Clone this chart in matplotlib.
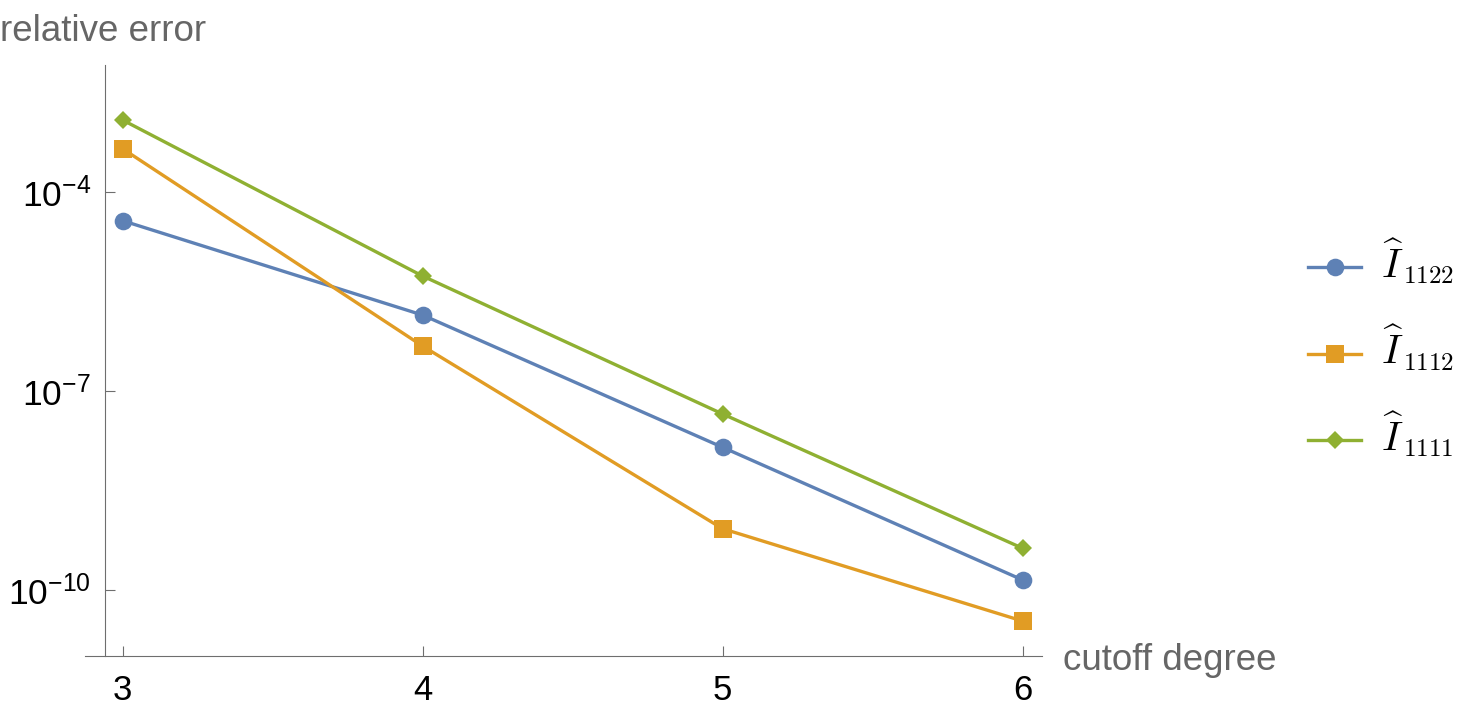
import matplotlib
matplotlib.use("Agg")
import matplotlib.pyplot as plt
from matplotlib.lines import Line2D
import numpy as np

# ---- data ----
cutoff = [3, 4, 5, 6]
err_1122 = [3.66e-5, 1.39e-6, 1.42e-8, 1.43e-10]
err_1112 = [4.44e-4, 4.75e-7, 8.45e-10, 3.44e-11]
err_1111 = [1.20e-3, 5.38e-6, 4.51e-8, 4.29e-10]
legend_base = [r"$\widehat{I}$", r"$\widehat{I}$", r"$\widehat{I}$"]
legend_sub = ["1122", "1112", "1111"]
xticks = [3, 4, 5, 6]
yticks = [1e-4, 1e-7, 1e-10]
ytick_labels = [r"$\mathregular{10^{-4}}$", r"$\mathregular{10^{-7}}$", r"$\mathregular{10^{-10}}$"]

colors = ["#5E81B5", "#E19C24", "#8FB032"]
markers = ["o", "s", "D"]
msizes = [12.7, 12.5, 9.0]

plt.rcParams["font.family"] = ["Liberation Sans", "DejaVu Sans"]
plt.rcParams["mathtext.fontset"] = "custom"
plt.rcParams["mathtext.rm"] = "Liberation Sans"
plt.rcParams["mathtext.it"] = "Liberation Sans:italic"
plt.rcParams["mathtext.bf"] = "Liberation Sans:bold"

W, H = 1475, 710
fig = plt.figure(figsize=(W / 100, H / 100), dpi=100)
ax = fig.add_axes([85 / W, 1 - 656 / H, (1042 - 85) / W, (656 - 65) / H])

series = [err_1122, err_1112, err_1111]
for vals, c, m, ms in zip(series, colors, markers, msizes):
    ax.plot(cutoff, vals, color=c, marker=m, markersize=ms, lw=2.4,
            markeredgewidth=0, solid_joinstyle="round")

ax.set_yscale("log")
ax.set_xlim(2.875, 6.065)
ax.set_ylim(10 ** -10.99, 10 ** -2.093)

axis_col = "#6e6e6e"
for s in ["top", "right"]:
    ax.spines[s].set_visible(False)
ax.spines["left"].set_position(("data", 2.9417))
for s in ["left", "bottom"]:
    ax.spines[s].set_color(axis_col)
    ax.spines[s].set_linewidth(0.8)

ax.set_xticks(xticks)
ax.set_xticklabels([str(t) for t in xticks])
ax.set_yticks(yticks)
ax.set_yticklabels(ytick_labels)
ax.yaxis.set_minor_locator(matplotlib.ticker.NullLocator())
ax.tick_params(axis="both", direction="in", length=7.2, width=0.8, color=axis_col,
               labelcolor="black")
ax.tick_params(axis="x", pad=13, labelsize=25)
ax.tick_params(axis="y", pad=10, labelsize=25.5)

fig.text(0 / W, 1 - 41 / H, "relative error", fontsize=26.5, color="#666666",
         ha="left", va="baseline")
fig.text(1063 / W, 1 - 670 / H, "cutoff degree", fontsize=26.5, color="#666666",
         ha="left", va="baseline")

# ---- legend (handles + labels with Mathematica-like subscript size) ----
leg_y = [267.3, 353.8, 440.2]
for c, m, ms, base, sub, yy in zip(colors, markers, msizes, legend_base, legend_sub, leg_y):
    yf = 1 - yy / H
    fig.add_artist(Line2D([1308 / W, 1334.5 / W, 1361 / W], [yf, yf, yf],
                          transform=fig.transFigure, color=c, lw=2.4,
                          marker=m, markersize=ms, markeredgewidth=0, markevery=[1]))
    fig.text(1381 / W, 1 - (yy + 10.5) / H, base, fontsize=29.5, math_fontfamily="cm",
             ha="left", va="baseline")
    fig.text(1403 / W, 1 - (yy + 16.0) / H, r"$\mathrm{" + sub + "}$", fontsize=18,
             math_fontfamily="cm", ha="left", va="baseline")

fig.savefig("out.png", dpi=100)
